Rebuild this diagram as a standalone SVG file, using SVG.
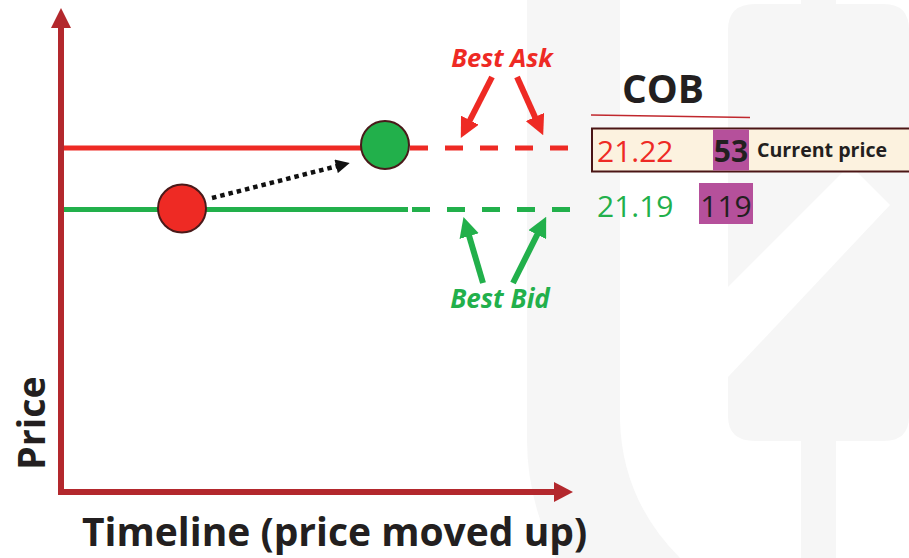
<svg xmlns="http://www.w3.org/2000/svg" width="909" height="558" viewBox="0 0 909 558">
<style>
.t{font-family:"Open Sans","Noto Sans","Liberation Sans",sans-serif}
.b{font-weight:700}
.wm{fill:#f6f6f6}
.red{fill:#ee2a24}
.grn{fill:#22b04b}
.dark{fill:#231f20}
</style>
<defs>
<marker id="hRed" viewBox="0 0 10 10" markerUnits="userSpaceOnUse" markerWidth="20" markerHeight="20" refX="1" refY="5" orient="auto"><path d="M0,0L10,5L0,10z" fill="#ee2a24"/></marker>
<marker id="hGrn" viewBox="0 0 10 10" markerUnits="userSpaceOnUse" markerWidth="20" markerHeight="20" refX="1" refY="5" orient="auto"><path d="M0,0L10,5L0,10z" fill="#22b04b"/></marker>
<marker id="hBlk" viewBox="0 0 10 10" markerUnits="userSpaceOnUse" markerWidth="16" markerHeight="14" refX="1" refY="5" orient="auto"><path d="M0,0L10,5L0,10z" fill="#111"/></marker>
</defs>
<rect width="909" height="558" fill="#fff"/>
<g id="watermark">
<path class="wm" d="M527,0H620V420Q622,500 680,558H556Q527,500 527,440Z"/>
<path class="wm" d="M755,4H884Q909,4 909,30V416Q909,441 884,441H755Q728,441 728,416V30Q728,4 755,4Z"/>
<rect class="wm" x="801" y="0" width="35" height="558"/>
<path d="M728,287L850,165L890,205L728,377Z" fill="#fff"/>
</g>
<g id="axes">
<line x1="61" y1="494" x2="61" y2="26" stroke="#b3282d" stroke-width="6"/>
<path d="M61,8L51,28L71,28Z" fill="#b3282d"/>
<line x1="58" y1="492" x2="556" y2="492" stroke="#b3282d" stroke-width="6"/>
<path d="M573,492L554,482L554,502Z" fill="#b3282d"/>
<text class="t b dark" font-size="37.5" text-anchor="middle" transform="translate(45,423) rotate(-90)">Price</text>
<text class="t b dark" x="82" y="546" font-size="39">Timeline (price moved up)</text>
</g>
<g id="ask-line">
<line x1="64" y1="148" x2="362" y2="148" stroke="#ee2a24" stroke-width="5"/>
<line x1="410" y1="148" x2="570" y2="148" stroke="#ee2a24" stroke-width="5" stroke-dasharray="18 17"/>
</g>
<g id="bid-line">
<line x1="64" y1="209.5" x2="408" y2="209.5" stroke="#22b04b" stroke-width="5"/>
<line x1="412" y1="209.5" x2="570" y2="209.5" stroke="#22b04b" stroke-width="5" stroke-dasharray="18 17"/>
</g>
<g id="red-dot"><circle cx="182" cy="208.5" r="24" fill="#ee2a24" stroke="#4a1a1a" stroke-width="2"/></g>
<g id="green-dot"><circle cx="385" cy="145" r="24" fill="#22b04b" stroke="#4a1a1a" stroke-width="2"/></g>
<g id="best-ask"><text class="t b red" x="502" y="67" font-size="25.5" font-style="italic" text-anchor="middle">Best Ask</text></g>
<g id="best-bid"><text class="t b grn" x="500" y="308" font-size="26" font-style="italic" text-anchor="middle">Best Bid</text></g>
<g id="cob">
<text class="t b dark" x="663" y="103" font-size="39" text-anchor="middle">COB</text>
<line x1="591" y1="115" x2="750" y2="117.5" stroke="#c0272d" stroke-width="1.5"/>
<rect x="592" y="128.5" width="318" height="43" fill="#fcf2df" stroke="#4a1515" stroke-width="2"/>
<rect x="713" y="129.5" width="36" height="41" fill="#b5509b"/>
<text class="t red" x="597" y="162" font-size="30">21.22</text>
<text class="t b dark" x="731" y="162" font-size="30" text-anchor="middle">53</text>
<text class="t b dark" x="757" y="157" font-size="19.6">Current price</text>
<rect x="699" y="183" width="54" height="41" fill="#b5509b"/>
<text class="t grn" x="597" y="217" font-size="30">21.19</text>
<text class="t dark" x="726" y="217" font-size="30" text-anchor="middle">119</text>
</g>
<g id="connectors">
<line x1="492" y1="77" x2="469" y2="122" stroke="#ee2a24" stroke-width="6" marker-end="url(#hRed)"/>
<line x1="517" y1="77" x2="535.8" y2="118.8" stroke="#ee2a24" stroke-width="6" marker-end="url(#hRed)"/>
<line x1="483" y1="283" x2="468.6" y2="234.2" stroke="#22b04b" stroke-width="6" marker-end="url(#hGrn)"/>
<line x1="513" y1="283" x2="538.1" y2="232.9" stroke="#22b04b" stroke-width="6" marker-end="url(#hGrn)"/>
<line x1="212" y1="198" x2="337.5" y2="166" stroke="#111" stroke-width="4.5" stroke-dasharray="4.5 4" marker-end="url(#hBlk)"/>
</g>
</svg>
